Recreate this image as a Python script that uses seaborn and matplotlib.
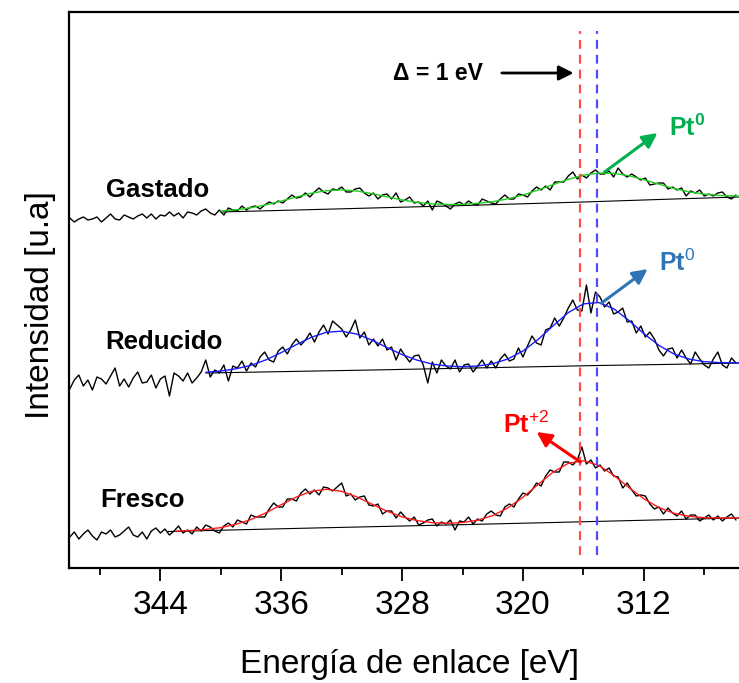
import numpy as np
import pandas as pd
import matplotlib
matplotlib.use("Agg")
import matplotlib.pyplot as plt
import seaborn as sns

# ---------------- data (arbitrary intensity units, stacked) ----------------
energy = np.round(np.arange(350.0, 305.8, -0.3), 1)  # measurement grid (eV)

fresco_raw = [31, 36, 29, 34, 38, 32, 28, 36, 34, 38, 31, 33, 37, 41, 33, 31, 36, 29, 37, 40,
              35, 39, 33, 37, 42, 35, 38, 34, 41, 37, 43, 41, 37, 35, 42, 45, 41, 48, 46, 44,
              53, 51, 51, 51, 59, 65, 61, 61, 69, 69, 67, 75, 79, 74, 78, 73, 81, 80, 77, 81,
              85, 72, 74, 68, 71, 72, 63, 62, 64, 54, 57, 57, 50, 56, 51, 47, 51, 43, 45, 48,
              49, 42, 46, 44, 48, 38, 47, 46, 51, 44, 49, 47, 54, 57, 53, 52, 61, 64, 61, 69,
              75, 73, 78, 85, 82, 92, 98, 96, 96, 106, 106, 103, 108, 121, 104, 108, 100, 103, 97, 100,
              92, 91, 80, 85, 78, 72, 73, 72, 64, 59, 61, 54, 60, 55, 52, 57, 49, 53, 53, 47,
              50, 53, 48, 52, 47, 51, 54, 48]

reducido_raw = [179, 188, 193, 182, 188, 178, 191, 189, 184, 192, 200, 182, 189, 181, 190, 196, 185, 186, 193, 180,
                189, 192, 172, 195, 192, 187, 195, 185, 190, 196, 208, 191, 198, 195, 203, 187, 202, 200, 207, 197,
                205, 201, 211, 216, 208, 206, 217, 221, 214, 223, 229, 223, 228, 235, 226, 236, 243, 234, 247, 243,
                239, 231, 238, 248, 230, 236, 223, 229, 222, 229, 218, 221, 208, 219, 212, 206, 212, 213, 203, 185,
                206, 195, 208, 202, 199, 208, 196, 203, 204, 196, 202, 208, 200, 207, 200, 209, 214, 207, 209, 220,
                211, 222, 232, 225, 223, 238, 240, 250, 242, 250, 260, 268, 258, 257, 283, 255, 276, 271, 261, 266,
                254, 256, 260, 246, 247, 235, 242, 231, 236, 229, 218, 212, 219, 220, 210, 218, 210, 204, 216, 209,
                203, 200, 209, 216, 203, 200, 210, 205]

gastado_raw = [350, 346, 349, 351, 348, 349, 351, 346, 350, 354, 349, 348, 353, 351, 349, 352, 354, 350, 354, 349,
               353, 352, 356, 352, 355, 350, 356, 355, 353, 357, 359, 355, 353, 358, 353, 360, 358, 357, 362, 358,
               361, 362, 359, 363, 366, 364, 367, 365, 369, 373, 370, 371, 375, 371, 376, 380, 376, 374, 379, 378,
               381, 376, 376, 379, 380, 375, 372, 375, 369, 373, 374, 369, 375, 366, 368, 371, 365, 366, 362, 367,
               358, 367, 365, 362, 359, 364, 366, 363, 367, 364, 363, 369, 367, 365, 364, 369, 373, 369, 369, 374,
               373, 371, 377, 381, 378, 382, 378, 386, 386, 386, 392, 396, 389, 393, 390, 395, 398, 394, 394, 397,
               391, 400, 394, 391, 394, 391, 388, 390, 383, 384, 385, 385, 379, 381, 378, 380, 372, 377, 375, 378,
               372, 374, 372, 375, 376, 371, 369, 373]

# fitted envelopes (read at 1 eV steps)
fresco_fit_x = [343, 342, 341, 340, 339, 338, 337, 336, 335, 334, 333, 332, 331, 330, 329, 328, 327, 326, 325,
                324, 323, 322, 321, 320, 319, 318, 317, 316, 315, 314, 313, 312, 311, 310, 309, 308, 307, 306, 305.7]
fresco_fit = [36.8, 37.5, 38.6, 40.4, 43.7, 48.5, 55.3, 63.3, 71.0, 76.7, 78.7, 76.6, 71.1, 63.9, 56.8, 51.1,
              47.4, 45.3, 44.7, 45.5, 47.8, 52.4, 60.1, 70.8, 83.5, 95.9, 104.7, 107.3, 102.7, 92.8, 80.6,
              69.2, 60.4, 54.7, 51.7, 50.3, 50.0, 50.1, 50.1]

reducido_fit_x = [341, 340, 339, 338, 337, 336, 335, 334, 333, 332, 331, 330, 329, 328, 327, 326, 325, 324, 323,
                  322, 321, 320, 319, 318, 317, 316, 315, 314, 313, 312, 311, 310, 309, 308, 307, 306, 305.7]
reducido_fit = [195.7, 197.0, 199.2, 202.7, 208.2, 215.4, 223.4, 230.8, 235.8, 236.8, 233.9, 227.9, 220.5,
                213.4, 207.8, 203.9, 202.0, 201.3, 202.0, 204.3, 209.0, 217.0, 228.5, 242.3, 255.4, 264.1,
                265.5, 259.3, 247.7, 234.4, 222.6, 214.0, 208.9, 206.3, 205.4, 205.2, 205.2]

gastado_fit_x = [340, 339, 338, 337, 336, 335, 334, 333, 332, 331, 330, 329, 328, 327, 326, 325, 324, 323,
                 322, 321, 320, 319, 318, 317, 316, 315, 314, 313, 312, 311, 310, 309, 308, 307, 306, 305.7]
gastado_fit = [356.9, 358.2, 360.3, 363.2, 366.9, 371.0, 374.8, 377.3, 378.2, 377.0, 374.4, 371.2, 368.1,
               365.6, 364.1, 363.5, 363.6, 364.7, 366.3, 369.2, 373.0, 378.0, 383.4, 388.7, 392.8, 394.9,
               394.7, 392.3, 388.3, 383.8, 379.5, 376.1, 373.9, 372.6, 372.0, 372.0]

# backgrounds
fresco_bg_x = [343.5, 335, 325, 318, 314, 310, 305.7]
fresco_bg = [36.5, 39.6, 43.0, 45.5, 47.0, 48.5, 50.0]
reducido_bg_x = [341, 330, 320, 315, 310, 305.7]
reducido_bg = [195.0, 198.0, 201.0, 202.5, 203.7, 205.0]
gastado_bg_x = [340, 325, 316, 310, 305.7]
gastado_bg = [356.0, 362.0, 366.0, 369.0, 371.0]

sample_names = ["Fresco", "Reducido", "Gastado"]
pt2_position = 316.2   # eV, Pt+2 reference
pt0_position = 315.1   # eV, Pt0 reference
x_ticks = [344, 336, 328, 320, 312]
x_minor = [348, 340, 332, 324, 316, 308]

# ---------------- style ----------------
sns.set_theme(style="ticks")
plt.rcParams["font.family"] = ["Liberation Sans", "DejaVu Sans"]
plt.rcParams["mathtext.fontset"] = "custom"
plt.rcParams["mathtext.rm"] = "Liberation Sans"
plt.rcParams["mathtext.it"] = "Liberation Sans:italic"
plt.rcParams["mathtext.bf"] = "Liberation Sans:bold"
plt.rcParams["text.color"] = "black"
plt.rcParams["axes.labelcolor"] = "black"
plt.rcParams["xtick.color"] = "black"
plt.rcParams["xtick.labelcolor"] = "black"

fig = plt.figure(figsize=(7.39, 6.83), dpi=100)
ax = fig.add_axes([69 / 739, 115 / 683, 1 - 69 / 739, 556 / 683])

raw = pd.DataFrame({
    "energy": np.concatenate([energy] * 3),
    "intensity": fresco_raw + reducido_raw + gastado_raw,
    "sample": np.repeat(sample_names, len(energy)),
})
for name in sample_names:
    sns.lineplot(data=raw[raw["sample"] == name], x="energy", y="intensity",
                 color="black", lw=1.0, estimator=None, sort=False, ax=ax)

for bx, by in [(fresco_bg_x, fresco_bg), (reducido_bg_x, reducido_bg), (gastado_bg_x, gastado_bg)]:
    sns.lineplot(x=bx, y=by, color="black", lw=0.8, estimator=None, sort=False, ax=ax)

sns.lineplot(x=fresco_fit_x, y=fresco_fit, color="#ff1a1a", lw=1.0, estimator=None, sort=False, ax=ax)
sns.lineplot(x=reducido_fit_x, y=reducido_fit, color="#1a1aff", lw=1.0, estimator=None, sort=False, ax=ax)
sns.lineplot(x=gastado_fit_x, y=gastado_fit, color="#1fd01f", lw=1.0, estimator=None, sort=False, ax=ax)

# reference dashed lines
ax.plot([pt2_position, pt2_position], [13, 537], color="#ff4d4d", lw=1.6, dashes=(4.0, 2.7))
ax.plot([pt0_position, pt0_position], [13, 537], color="#4d4dff", lw=1.6, dashes=(4.0, 2.7))

# sample labels
ax.text(344.2, 378, "Gastado", fontsize=18.5, fontweight="bold", ha="center", va="center")
ax.text(343.75, 226, "Reducido", fontsize=18.5, fontweight="bold", ha="center", va="center")
ax.text(345.2, 68, "Fresco", fontsize=18.5, fontweight="bold", ha="center", va="center")

# delta annotation
ax.text(325.6, 495, "\u0394 = 1 eV", fontsize=16.5, fontweight="bold", ha="center", va="center")
ax.annotate("", xy=(316.65, 495), xytext=(321.4, 495),
            arrowprops=dict(arrowstyle="-|>", color="black", lw=2.0, mutation_scale=22,
                            shrinkA=0, shrinkB=0))

# Pt annotations
green = "#00b050"
blue = "#2e75b6"
red = "#ff0000"
ax.annotate("", xy=(311.1, 435), xytext=(314.6, 396),
            arrowprops=dict(arrowstyle="-|>", color=green, lw=2.2, mutation_scale=22, shrinkA=0, shrinkB=0))
ax.text(310.35, 440, r"Pt$^{\mathbf{0}}$", color=green, fontsize=18, fontweight="bold", ha="left", va="center")

ax.annotate("", xy=(311.75, 299), xytext=(314.8, 265),
            arrowprops=dict(arrowstyle="-|>", color=blue, lw=2.2, mutation_scale=22, shrinkA=0, shrinkB=0))
ax.text(311.0, 305, r"Pt$^{0}$", color=blue, fontsize=18, fontweight="bold", ha="left", va="center")

ax.annotate("", xy=(319.1, 136), xytext=(316.2, 106),
            arrowprops=dict(arrowstyle="-|>", color=red, lw=2.2, mutation_scale=22, shrinkA=0, shrinkB=0))
ax.text(321.35, 143, r"Pt$^{+2}$", color=red, fontsize=18, fontweight="bold", ha="left", va="center")

# axes
ax.set_xlim(350.05, 305.7)
ax.set_ylim(0, 556)
ax.set_xticks(x_ticks)
ax.set_xticklabels([str(t) for t in x_ticks])
ax.set_xticks(x_minor, minor=True)
ax.set_yticks([])
ax.tick_params(axis="x", which="major", length=9, width=1.3, labelsize=24, pad=7, direction="out",
               color="black", labelcolor="black")
ax.tick_params(axis="x", which="minor", length=5, width=1.3, direction="out", color="black")
for side in ["left", "top", "bottom"]:
    ax.spines[side].set_visible(True)
    ax.spines[side].set_linewidth(1.6)
    ax.spines[side].set_color("black")
ax.spines["right"].set_visible(False)

ax.set_xlabel("Energía de enlace [eV]", fontsize=24, labelpad=14, color="black")
ax.set_ylabel("Intensidad [u.a]", fontsize=24, color="black")
ax.yaxis.set_label_coords(-28 / 670, (568 - 305) / 556)
ax.xaxis.set_label_coords((409 - 69) / 670, -(665 - 568) / 556)
ax.xaxis.label.set_va("center")
ax.yaxis.label.set_va("center")

fig.savefig("out.png", dpi=100)
